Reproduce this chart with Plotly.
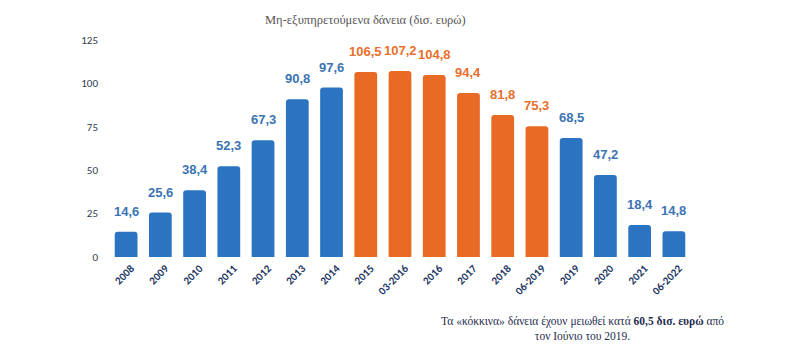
import plotly.graph_objects as go

categories = ["2008", "2009", "2010", "2011", "2012", "2013", "2014", "2015",
              "03-2016", "2016", "2017", "2018", "06-2019", "2019", "2020", "2021", "06-2022"]
values = [14.6, 25.6, 38.4, 52.3, 67.3, 90.8, 97.6, 106.5, 107.2, 104.8, 94.4, 81.8, 75.3, 68.5, 47.2, 18.4, 14.8]
highlight = [False]*7 + [True]*6 + [False]*4
labels = [f"{v:.1f}".replace(".", ",") for v in values]
y_ticks = [0, 25, 50, 75, 100, 125]

BLUE = "#2b74c1"
ORANGE = "#e86a24"
BLUE_T = "#3b74b3"
ORANGE_T = "#e8702c"

bar_colors = [ORANGE if h else BLUE for h in highlight]
text_colors = [ORANGE_T if h else BLUE_T for h in highlight]
idx = list(range(len(categories)))

fig = go.Figure()
fig.add_trace(go.Bar(x=idx, y=values, marker_color=bar_colors,
                     marker_line_width=0, hoverinfo="y"))

for i, v, t, col in zip(idx, values, labels, text_colors):
    fig.add_annotation(x=i, y=v, text=f"<b>{t}</b>", showarrow=False,
                       yanchor="bottom", yshift=11,
                       font=dict(family="Liberation Sans, Arial", size=13, color=col))

fig.add_annotation(xref="paper", yref="paper", x=0.2646, y=1.0, yshift=20,
                   text="Μη-εξυπηρετούμενα δάνεια (δισ. ευρώ)", showarrow=False,
                   xanchor="left", yanchor="middle",
                   font=dict(family="Liberation Serif, Times New Roman", size=12.5, color="#555555"))

fig.add_annotation(xref="paper", yref="paper", x=0.814, y=-0.26,
                   text="Τα «κόκκινα» δάνεια έχουν μειωθεί κατά <b>60,5 δισ. ευρώ</b> από<br>τον Ιούνιο του 2019.",
                   showarrow=False, xanchor="center", yanchor="top", align="center",
                   font=dict(family="Liberation Serif, Times New Roman", size=11.5, color="#1f2d4e"))

fig.update_layout(
    width=790, height=352,
    margin=dict(l=109, r=99, t=40, b=95),
    paper_bgcolor="white", plot_bgcolor="white",
    bargap=0.335, barcornerradius=3,
    showlegend=False,
    xaxis=dict(range=[-0.5, len(categories) - 0.5], tickvals=idx, ticktext=categories,
               showgrid=False, showline=False, zeroline=False,
               tickangle=-45, ticks="", ticklabelshift=5, ticklabelstandoff=2,
               tickfont=dict(family="Carlito, Liberation Sans, Arial", size=11, color="#1f3864", weight="bold")),
    yaxis=dict(range=[0, 125], tickvals=y_ticks, showgrid=False, showline=False, zeroline=False,
               ticks="", ticklabelstandoff=10,
               tickfont=dict(family="Carlito, Liberation Sans, Arial", size=11, color="#2f3b4a")),
)

fig.write_html("out.html")
